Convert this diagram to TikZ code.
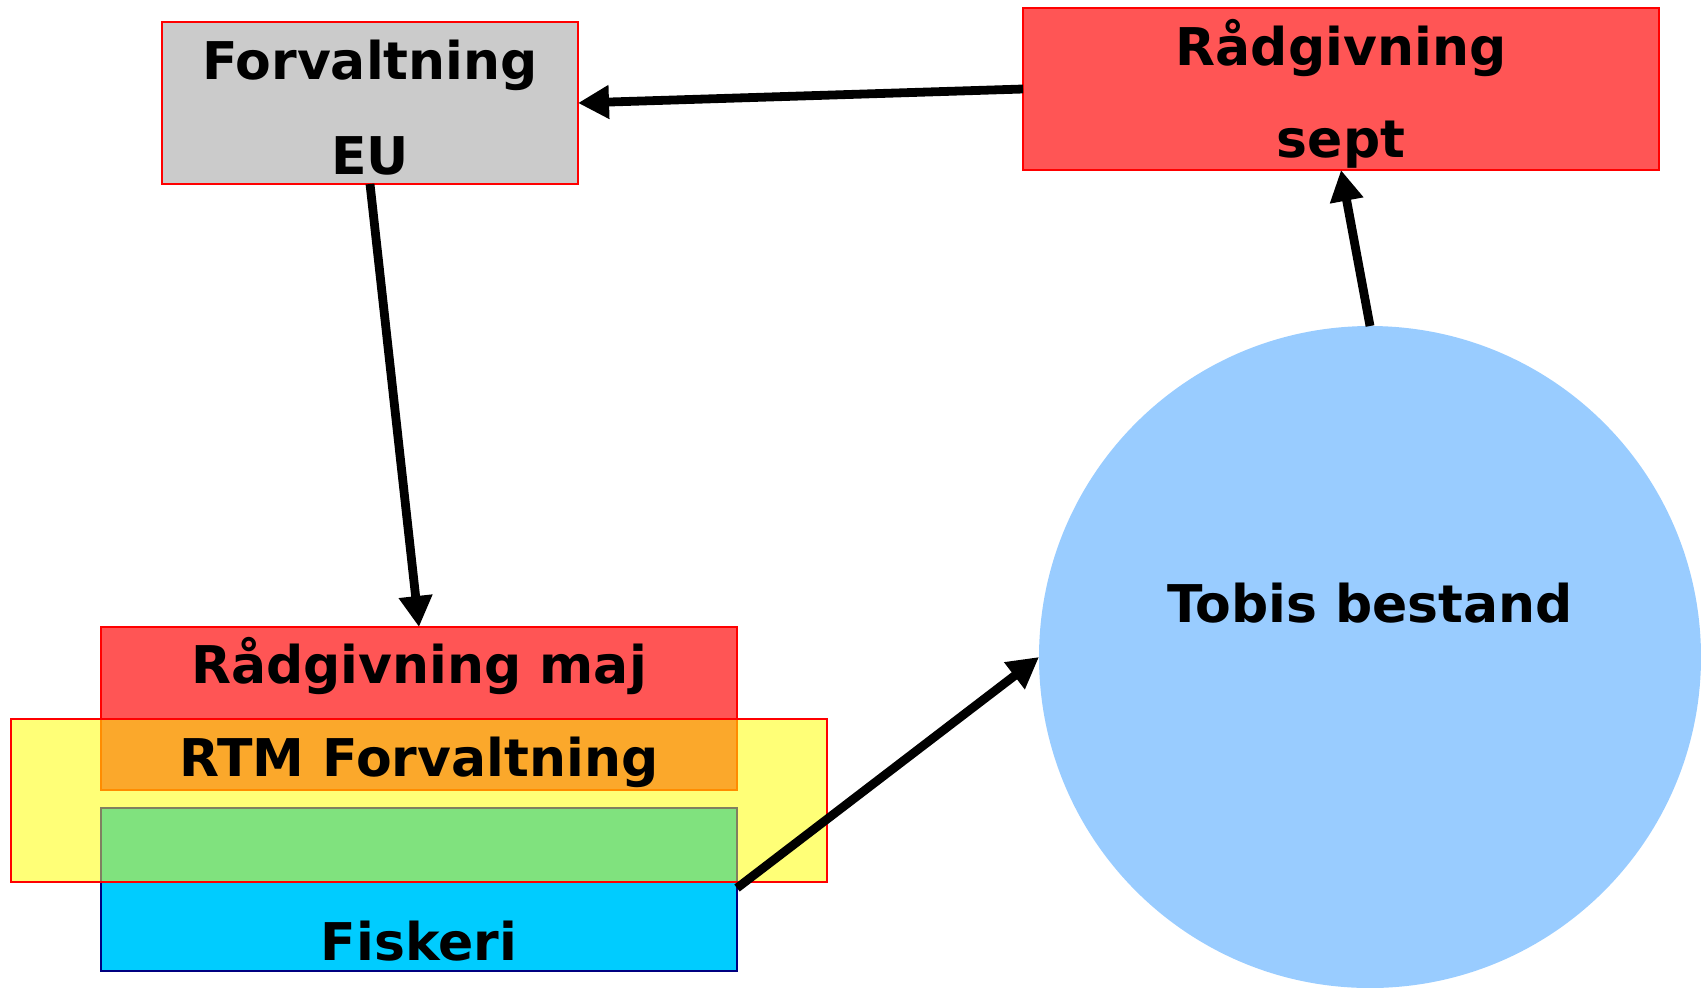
\documentclass[tikz,border=0pt]{standalone}
\usepackage{fontspec}
\setmainfont{DejaVu Sans}
\usetikzlibrary{arrows.meta}
\definecolor{boxred}{HTML}{FF5555}
\definecolor{boxgray}{HTML}{CBCBCB}
\definecolor{boxyellow}{HTML}{FFFF77}
\definecolor{boxorange}{HTML}{FBA82B}
\definecolor{edgeorange}{HTML}{FF8C00}
\definecolor{boxgreen}{HTML}{80E27E}
\definecolor{edgegreen}{HTML}{808060}
\definecolor{boxcyan}{HTML}{00CCFF}
\definecolor{edgeblue}{HTML}{000080}
\definecolor{circblue}{HTML}{99CCFF}
\begin{document}
\begin{tikzpicture}[x=0.5pt,y=-0.5pt,
  box/.style={rectangle, inner sep=0pt, outer sep=0pt, line width=1pt},
  lbl/.style={inner sep=0pt, anchor=base, font=\bfseries\fontsize{26}{47}\selectfont},
  conn/.style={line width=4.4pt, -{Triangle[length=15.5pt,width=16pt]}}]
\useasboundingbox (0,0) rectangle (1701,987);

% circle
\node[circle, fill=circblue, inner sep=0pt, outer sep=0pt, minimum size=331pt] (tobis) at (1370,657) {};

% top boxes
\node[box, fill=boxgray, draw=red, minimum width=208pt, minimum height=81pt] (eu) at (370,103) {};
\node[box, fill=boxred, draw=red, minimum width=318pt, minimum height=81pt] (sept) at (1341,89) {};

% lower stack
\node[box, fill=boxred, draw=red, minimum width=318pt, minimum height=81.5pt] (maj) at (419,708.5) {};
\node[box, fill=boxcyan, draw=edgeblue, minimum width=318pt, minimum height=44.5pt] (fiskeri) at (419,926.5) {};
\node[box, fill=boxyellow, draw=red, minimum width=408pt, minimum height=81.5pt] (rtm) at (419,800.5) {};
\path[fill=boxorange, draw=edgeorange, line width=1pt] (101,719) rectangle (737,790);
\node[box, fill=boxgreen, draw=edgegreen, minimum width=318pt, minimum height=37pt] (green) at (419,845) {};
\draw[red, line width=1pt] (rtm.north west) rectangle (rtm.south east);

% labels
\node[lbl] (t1) at (370,79) {Forvaltning};
\node[lbl] (t2) at (370,174) {EU};
\node[lbl] (t3) at (1341,65) {Rådgivning};
\node[lbl] (t4) at (1341,157) {sept};
\node[lbl] (t5) at (419,683) {Rådgivning maj};
\node[lbl] (t6) at (419,776) {RTM Forvaltning};
\node[lbl] (t7) at (419,960) {Fiskeri};
\node[lbl] (t8) at (1370,622) {Tobis bestand};

% connectors
\draw[conn] (sept.west) -- (eu.east);
\draw[conn] (eu.south) -- (maj.north);
\draw[conn] ([yshift=-3pt]fiskeri.north east) -- (tobis.west);
\draw[conn] (tobis.north) -- (sept.south);
\end{tikzpicture}
\end{document}
